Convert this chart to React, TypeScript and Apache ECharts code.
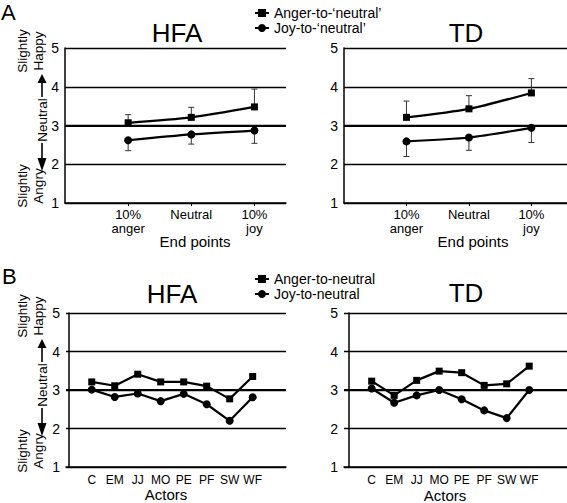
import React, { useEffect, useRef } from 'react';
import * as echarts from 'echarts';

// ---- data ----
const endPoints = ['10%\nanger', 'Neutral', '10%\njoy'];
const actors = ['C', 'EM', 'JJ', 'MO', 'PE', 'PF', 'SW', 'WF'];
const yTicks = [1, 2, 3, 4, 5];

// Panel A (means and error-bar ends)
const hfaAngerA = [3.07, 3.21, 3.48];
const hfaAngerAErrTop = [3.28, 3.47, 3.94];
const hfaJoyA = [2.62, 2.77, 2.87];
const hfaJoyAErrBottom = [2.35, 2.52, 2.54];
const tdAngerA = [3.21, 3.43, 3.84];
const tdAngerAErrTop = [3.63, 3.77, 4.21];
const tdJoyA = [2.59, 2.69, 2.94];
const tdJoyAErrBottom = [2.2, 2.36, 2.56];

// Panel B
const hfaAngerB = [3.21, 3.11, 3.41, 3.21, 3.21, 3.1, 2.77, 3.35];
const hfaJoyB = [3.01, 2.82, 2.91, 2.71, 2.9, 2.63, 2.2, 2.81];
const tdAngerB = [3.23, 2.86, 3.25, 3.49, 3.45, 3.12, 3.16, 3.62];
const tdJoyB = [3.04, 2.67, 2.86, 3.0, 2.76, 2.47, 2.27, 3.0];

const legendA = ['Anger-to-\u2018neutral\u2019', 'Joy-to-\u2018neutral\u2019'];
const legendB = ['Anger-to-neutral', 'Joy-to-neutral'];

const FONT = '"Liberation Sans", Arial, Helvetica, sans-serif';

const pts = (arr: number[]) => arr.map((v, i) => [i + 1, v]);
const errPts = (mean: number[], end: number[]) => mean.map((v, i) => [i + 1, v, end[i]]);

const renderErr = (params: any, api: any) => {
  const x = api.value(0);
  const a = api.coord([x, api.value(1)]);
  const b = api.coord([x, api.value(2)]);
  const cap = 3;
  return {
    type: 'group',
    children: [
      { type: 'line', shape: { x1: a[0], y1: a[1], x2: b[0], y2: b[1] }, style: { stroke: '#333', lineWidth: 1 } },
      { type: 'line', shape: { x1: b[0] - cap, y1: b[1], x2: b[0] + cap, y2: b[1] }, style: { stroke: '#333', lineWidth: 1 } },
    ],
  };
};

const markLine3 = {
  silent: true,
  symbol: 'none',
  label: { show: false },
  lineStyle: { color: '#000', width: 2.2, type: 'solid' },
  data: [{ yAxis: 3 }],
};

function lineSeries(name: string, data: number[], idx: number, symbol: string, smooth: number, withMark: boolean) {
  return {
    type: 'line',
    name,
    xAxisIndex: idx,
    yAxisIndex: idx,
    data: pts(data),
    symbol,
    symbolSize: symbol === 'rect' ? 7 : 8,
    smooth,
    lineStyle: { color: '#000', width: 2.2 },
    itemStyle: { color: '#000' },
    z: 5,
    markLine: withMark ? markLine3 : undefined,
  };
}

function errSeries(mean: number[], end: number[], idx: number) {
  return {
    type: 'custom',
    xAxisIndex: idx,
    yAxisIndex: idx,
    data: errPts(mean, end),
    renderItem: renderErr,
    z: 3,
    silent: true,
    encode: { x: 0, y: [1, 2] },
  };
}

function sideLabels(dy: number) {
  const t = (text: string, x: number, y: number) => ({
    type: 'text',
    x,
    y: y + dy,
    rotation: Math.PI / 2,
    style: {
      text,
      fontSize: 13.5,
      fontFamily: FONT,
      fill: '#000',
      align: 'center',
      verticalAlign: 'middle',
      lineHeight: 16,
    },
  });
  return [
    t('Slightly\nHappy', 30, 51),
    t('Neutral', 42, 120),
    t('Slightly\nAngry', 30, 186),
    { type: 'line', shape: { x1: 42, y1: 97 + dy, x2: 42, y2: 82 + dy }, style: { stroke: '#000', lineWidth: 1.6 } },
    { type: 'polygon', shape: { points: [[37.5, 83 + dy], [46.5, 83 + dy], [42, 74 + dy]] }, style: { fill: '#000' } },
    { type: 'line', shape: { x1: 42, y1: 143 + dy, x2: 42, y2: 159 + dy }, style: { stroke: '#000', lineWidth: 1.6 } },
    { type: 'polygon', shape: { points: [[37.5, 158 + dy], [46.5, 158 + dy], [42, 171 + dy]] }, style: { fill: '#000' } },
  ];
}

function txt(text: string, x: number, y: number, size: number, align = 'center') {
  return {
    type: 'text',
    x,
    y,
    style: { text, fontSize: size, fontFamily: FONT, fill: '#000', align, verticalAlign: 'middle' },
  };
}

export default function App() {
  const ref = useRef<HTMLDivElement>(null);

  useEffect(() => {
    if (!ref.current) return;
    const chart = echarts.init(ref.current, undefined, { renderer: 'svg' });

    const grids = [
      { left: 65, top: 48, width: 221, height: 155 },
      { left: 344, top: 48, width: 223, height: 155 },
      { left: 66, top: 313, width: 220, height: 154 },
      { left: 344, top: 313, width: 223, height: 154 },
    ];

    const xAxisA = (max: number) => ({
      type: 'value',
      min: 0,
      max,
      axisLine: { onZero: false, lineStyle: { color: '#000', width: 1.5 } },
      axisTick: { show: true, length: 3, customValues: [1, 2, 3], lineStyle: { color: '#000' } },
      axisLabel: {
        customValues: [1, 2, 3],
        formatter: (v: number) => endPoints[Math.round(v) - 1] ?? '',
        color: '#000',
        fontSize: 13,
        fontFamily: FONT,
        lineHeight: 14,
        margin: 4,
      },
      splitLine: { show: false },
    });
    const xAxisB = (min: number, max: number) => ({
      type: 'value',
      min,
      max,
      axisLine: { onZero: false, lineStyle: { color: '#000', width: 1.5 } },
      axisTick: { show: false },
      axisLabel: {
        customValues: actors.map((_, i) => i + 1),
        formatter: (v: number) => actors[Math.round(v) - 1] ?? '',
        color: '#000',
        fontSize: 12,
        fontFamily: FONT,
        margin: 7,
      },
      splitLine: { show: false },
    });
    const yAxis = (gi: number) => ({
      type: 'value',
      gridIndex: gi,
      min: yTicks[0],
      max: yTicks[yTicks.length - 1],
      interval: 1,
      axisLine: { show: true, lineStyle: { color: '#000', width: 1.5 } },
      axisTick: { show: false },
      axisLabel: { color: '#000', fontSize: 14, fontFamily: FONT, margin: 6 },
      splitLine: { show: true, lineStyle: { color: '#000', width: 1.3 } },
    });

    const option: any = {
      animation: false,
      backgroundColor: '#fff',
      textStyle: { fontFamily: FONT },
      grid: grids,
      xAxis: [
        { ...xAxisA(3.5), gridIndex: 0 },
        { ...xAxisA(3.57), gridIndex: 1 },
        { ...xAxisB(-0.12, 9.45), gridIndex: 2 },
        { ...xAxisB(-0.23, 9.68), gridIndex: 3 },
      ],
      yAxis: [yAxis(0), yAxis(1), yAxis(2), yAxis(3)],
      legend: [
        {
          data: legendA,
          orient: 'vertical',
          left: 249,
          top: 1,
          itemWidth: 14,
          itemHeight: 10,
          itemGap: 1,
          textStyle: { color: '#000', fontSize: 14, lineHeight: 14, fontFamily: FONT },
          selectedMode: false,
        },
        {
          data: legendB,
          orient: 'vertical',
          left: 249,
          top: 267,
          itemWidth: 14,
          itemHeight: 10,
          itemGap: 1,
          textStyle: { color: '#000', fontSize: 14, lineHeight: 14, fontFamily: FONT },
          selectedMode: false,
        },
      ],
      series: [
        errSeries(hfaAngerA, hfaAngerAErrTop, 0),
        errSeries(hfaJoyA, hfaJoyAErrBottom, 0),
        lineSeries(legendA[0], hfaAngerA, 0, 'rect', 0.25, true),
        lineSeries(legendA[1], hfaJoyA, 0, 'circle', 0.25, false),
        errSeries(tdAngerA, tdAngerAErrTop, 1),
        errSeries(tdJoyA, tdJoyAErrBottom, 1),
        lineSeries(legendA[0], tdAngerA, 1, 'rect', 0.25, true),
        lineSeries(legendA[1], tdJoyA, 1, 'circle', 0.25, false),
        lineSeries(legendB[0], hfaAngerB, 2, 'rect', 0, true),
        lineSeries(legendB[1], hfaJoyB, 2, 'circle', 0, false),
        lineSeries(legendB[0], tdAngerB, 3, 'rect', 0, true),
        lineSeries(legendB[1], tdJoyB, 3, 'circle', 0, false),
      ],
      graphic: [
        txt('A', 1, 12, 22, 'left'),
        txt('B', 2, 276, 22, 'left'),
        txt('HFA', 177, 33, 26),
        txt('TD', 466, 33, 26),
        txt('HFA', 172, 294, 26),
        txt('TD', 466, 293, 26),
        txt('End points', 195, 241, 15),
        txt('End points', 473, 241, 15),
        txt('Actors', 166, 494, 15),
        txt('Actors', 445, 495, 15),
        ...sideLabels(0),
        ...sideLabels(265),
      ],
    };

    chart.setOption(option);
    return () => chart.dispose();
  }, []);

  return (
    <div
      ref={ref}
      style={{ position: 'fixed', left: 0, top: 0, width: 567, height: 503, background: '#fff' }}
    />
  );
}
